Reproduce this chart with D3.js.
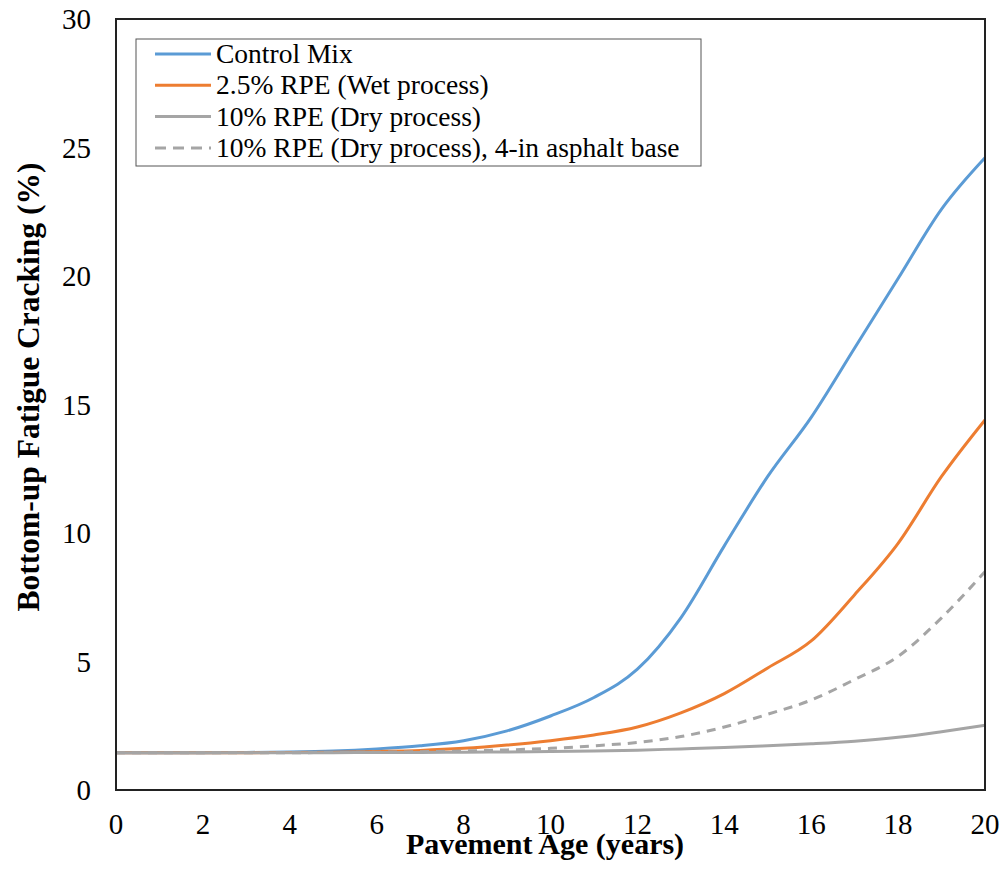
<!DOCTYPE html>
<html>
<head>
<meta charset="utf-8">
<script src="https://cdn.jsdelivr.net/npm/d3@7"></script>
<style>
  body { margin: 0; background: #fff; }
  svg text { font-family: "Liberation Serif", "Times New Roman", "DejaVu Serif", serif; fill: #000; }
</style>
</head>
<body>
<div class="chart"></div>
<script>
// values, one point per year
var years      = [0, 1, 2, 3, 4, 5, 6, 7, 8, 9, 10, 11, 12, 13, 14, 15, 16, 17, 18, 19, 20];
var controlMix = [1.45, 1.45, 1.45, 1.46, 1.48, 1.52, 1.6, 1.72, 1.92, 2.3, 2.88, 3.6, 4.7, 6.7, 9.5, 12.2, 14.5, 17.2, 19.9, 22.6, 24.6];
var wetRPE     = [1.45, 1.45, 1.45, 1.45, 1.46, 1.47, 1.5, 1.54, 1.62, 1.75, 1.92, 2.14, 2.45, 3.0, 3.75, 4.75, 5.8, 7.6, 9.6, 12.2, 14.4];
var dryRPE     = [1.45, 1.45, 1.45, 1.45, 1.45, 1.45, 1.46, 1.46, 1.47, 1.48, 1.5, 1.52, 1.55, 1.6, 1.65, 1.72, 1.8, 1.9, 2.05, 2.27, 2.52];
var dryRPE4in  = [1.45, 1.45, 1.45, 1.45, 1.45, 1.46, 1.47, 1.49, 1.52, 1.56, 1.62, 1.72, 1.85, 2.08, 2.45, 2.95, 3.5, 4.3, 5.2, 6.7, 8.5];

var seriesNames = ["Control Mix", "2.5% RPE (Wet process)", "10% RPE (Dry process)", "10% RPE (Dry process), 4-in asphalt base"];
var xTicks = [0, 2, 4, 6, 8, 10, 12, 14, 16, 18, 20];
var yTicks = [0, 5, 10, 15, 20, 25, 30];

var series = [
    { name: seriesNames[0], values: controlMix, color: "#5B9BD5", dash: null },
    { name: seriesNames[1], values: wetRPE,     color: "#ED7D31", dash: null },
    { name: seriesNames[2], values: dryRPE,     color: "#A5A5A5", dash: null },
    { name: seriesNames[3], values: dryRPE4in,  color: "#A5A5A5", dash: "9,7" }
];

var width = 1004, height = 886;
var margin = { left: 116, right: 19, top: 19, bottom: 96 };

var svg = d3.select("div.chart")
            .append("svg")
            .attr("width", width)
            .attr("height", height);

var x = d3.scaleLinear().domain([0, 20]).range([margin.left, width - margin.right]);
var y = d3.scaleLinear().domain([0, 30]).range([height - margin.bottom, margin.top]);

// tick labels (Excel style, no tick marks)
svg.append("g")
   .selectAll("text")
   .data(xTicks)
   .enter()
   .append("text")
   .attr("x", function(d) { return x(d); })
   .attr("y", 834)
   .attr("text-anchor", "middle")
   .style("font-size", "29px")
   .text(function(d) { return d; });

svg.append("g")
   .selectAll("text")
   .data(yTicks)
   .enter()
   .append("text")
   .attr("x", 91)
   .attr("y", function(d) { return y(d) + 10; })
   .attr("text-anchor", "end")
   .style("font-size", "29px")
   .text(function(d) { return d; });

// lines
var line = d3.line()
             .x(function(d, i) { return x(years[i]); })
             .y(function(d) { return y(d); })
             .curve(d3.curveMonotoneX);

svg.selectAll("path.series")
   .data(series)
   .enter()
   .append("path")
   .attr("class", "series")
   .attr("d", function(d) { return line(d.values); })
   .attr("fill", "none")
   .attr("stroke", function(d) { return d.color; })
   .attr("stroke-width", 3)
   .attr("stroke-dasharray", function(d) { return d.dash; });

// plot frame
svg.append("rect")
   .attr("x", x(0))
   .attr("y", y(30))
   .attr("width", x(20) - x(0))
   .attr("height", y(0) - y(30))
   .attr("fill", "none")
   .attr("stroke", "#222")
   .attr("stroke-width", 2);

// legend
var legend = svg.append("g").attr("transform", "translate(136,39)");
legend.append("rect")
      .attr("width", 565)
      .attr("height", 127)
      .attr("fill", "#fff")
      .attr("stroke", "#555")
      .attr("stroke-width", 1);

var items = legend.selectAll("g.item")
                  .data(series)
                  .enter()
                  .append("g")
                  .attr("class", "item")
                  .attr("transform", function(d, i) { return "translate(0," + (15 + i * 31.3) + ")"; });

items.append("line")
     .attr("x1", 19).attr("x2", 75)
     .attr("y1", 0).attr("y2", 0)
     .attr("stroke", function(d) { return d.color; })
     .attr("stroke-width", 3)
     .attr("stroke-dasharray", function(d) { return d.dash ? "11,7" : null; });

items.append("text")
     .attr("x", 80)
     .attr("y", 9)
     .style("font-size", "27.5px")
     .text(function(d) { return d.name; });

// axis titles
svg.append("text")
   .attr("x", 545)
   .attr("y", 854)
   .attr("text-anchor", "middle")
   .style("font-size", "30px")
   .style("font-weight", "bold")
   .text("Pavement Age (years)");

svg.append("text")
   .attr("transform", "translate(39,387) rotate(-90)")
   .attr("text-anchor", "middle")
   .style("font-size", "31.5px")
   .style("font-weight", "bold")
   .text("Bottom-up Fatigue Cracking (%)");
</script>
</body>
</html>
